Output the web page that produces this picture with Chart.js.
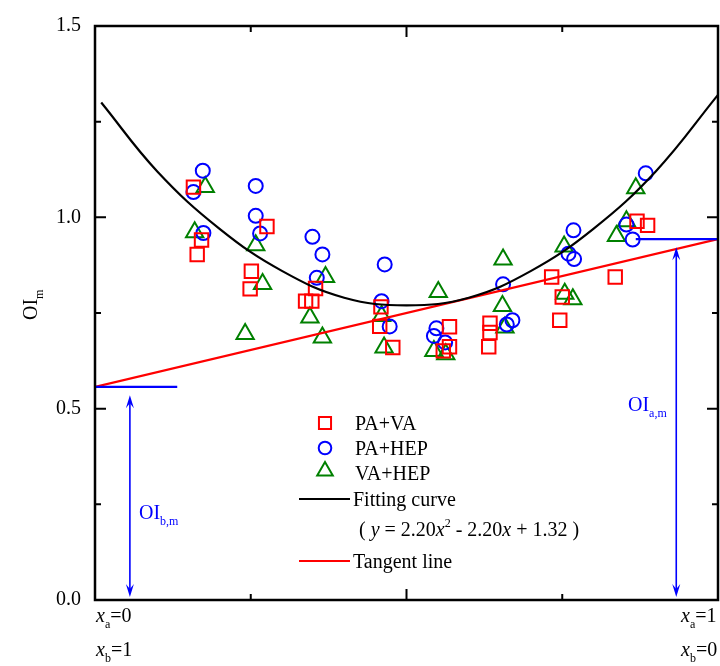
<!DOCTYPE html>
<html>
<head>
<meta charset="utf-8">
<script src="https://cdn.jsdelivr.net/npm/chart.js@4.4.0/dist/chart.umd.min.js"></script>
<style>
    html, body { margin: 0; padding: 0; background: #fff; }
    #wrap { width: 720px; height: 666px; }
</style>
</head>
<body>
<div id="wrap"><canvas id="chart"></canvas></div>
<script>
// PA+VA (squares)
var paVaX = [0.158, 0.171, 0.164, 0.276, 0.251, 0.249, 0.354, 0.338, 0.348, 0.459, 0.457, 0.478, 0.569, 0.569, 0.559, 0.634, 0.634, 0.632, 0.733, 0.750, 0.746, 0.870, 0.887, 0.835];
var paVaY = [1.079, 0.941, 0.903, 0.976, 0.859, 0.813, 0.814, 0.781, 0.781, 0.766, 0.715, 0.660, 0.714, 0.662, 0.651, 0.723, 0.699, 0.662, 0.844, 0.792, 0.731, 0.990, 0.979, 0.844];

// PA+HEP (circles)
var paHepX = [0.173, 0.158, 0.174, 0.258, 0.258, 0.265, 0.349, 0.365, 0.356, 0.465, 0.460, 0.473, 0.548, 0.544, 0.562, 0.655, 0.670, 0.661, 0.884, 0.768, 0.760, 0.769, 0.853, 0.863];
var paHepY = [1.122, 1.066, 0.959, 1.082, 1.004, 0.958, 0.949, 0.903, 0.842, 0.877, 0.781, 0.715, 0.710, 0.690, 0.673, 0.825, 0.731, 0.720, 1.115, 0.966, 0.905, 0.891, 0.981, 0.942];

// VA+HEP (triangles)
var vaHepX = [0.177, 0.160, 0.258, 0.269, 0.241, 0.370, 0.345, 0.365, 0.460, 0.464, 0.551, 0.544, 0.563, 0.655, 0.654, 0.658, 0.868, 0.753, 0.754, 0.767, 0.853, 0.837];
var vaHepY = [1.079, 0.961, 0.927, 0.826, 0.695, 0.844, 0.738, 0.686, 0.742, 0.660, 0.805, 0.651, 0.642, 0.890, 0.768, 0.712, 1.076, 0.924, 0.800, 0.786, 0.990, 0.951];

// fitting curve
var fitX = [0.01, 0.1, 0.2, 0.3, 0.4, 0.5, 0.6, 0.7, 0.8, 0.9, 1.0];
var fitY = [1.30, 1.12, 0.97, 0.86, 0.79, 0.77, 0.79, 0.86, 0.97, 1.12, 1.32];

// tangent line
var tanX = [0, 1];
var tanY = [0.557, 0.943];

// blue markers of OI_b,m and OI_a,m
var obX = [0, 0.132];
var obY = [0.557, 0.557];
var oaX = [0.868, 1];
var oaY = [0.943, 0.943];
var arrowX = [0.056, 0.933];
var arrowTop = [0.535, 0.922];
var arrowBottom = [0.008, 0.008];

var yTicks = [0, 0.5, 1.0, 1.5];

function pts(xs, ys) {
    return xs.map(function(x, i) { return { x: x, y: ys[i] }; });
}

var SERIF = '"Liberation Serif", "Times New Roman", serif';

// text with a subscript / superscript piece
function drawParts(ctx, x, y, parts, color) {
    ctx.fillStyle = color;
    ctx.textBaseline = 'alphabetic';
    ctx.textAlign = 'left';
    parts.forEach(function(p) {
        var size = p.sub || p.sup ? 12 : 20;
        ctx.font = (p.it ? 'italic ' : '') + size + 'px ' + SERIF;
        var dy = p.sub ? 6 : (p.sup ? -9 : 0);
        ctx.fillText(p.t, x, y + dy);
        x += ctx.measureText(p.t).width;
    });
    return x;
}

function arrowHead(ctx, x, y, dir) {
    ctx.beginPath();
    ctx.moveTo(x, y);
    ctx.lineTo(x - 4, y - dir * 13);
    ctx.lineTo(x, y - dir * 8);
    ctx.lineTo(x + 4, y - dir * 13);
    ctx.closePath();
    ctx.fill();
}

var decorPlugin = {
    id: 'decor',
    afterDatasetsDraw: function(chart) {
        var ctx = chart.ctx, a = chart.chartArea;
        var xs = chart.scales.x, ys = chart.scales.y;
        ctx.save();

        // frame
        ctx.strokeStyle = '#000';
        ctx.lineWidth = 2.5;
        ctx.strokeRect(a.left, a.top, a.right - a.left, a.bottom - a.top);

        // inward ticks
        ctx.lineWidth = 2;
        ctx.beginPath();
        for (var v = 0; v <= 1.5001; v += 0.25) {
            var py = ys.getPixelForValue(v);
            var len = Math.abs(v * 2 - Math.round(v * 2)) < 0.01 ? 11 : 6;
            ctx.moveTo(a.left, py); ctx.lineTo(a.left + len, py);
            ctx.moveTo(a.right, py); ctx.lineTo(a.right - len, py);
        }
        [0.25, 0.5, 0.75].forEach(function(v) {
            var px = xs.getPixelForValue(v);
            var len = v === 0.5 ? 11 : 6;
            ctx.moveTo(px, a.bottom); ctx.lineTo(px, a.bottom - len);
            ctx.moveTo(px, a.top); ctx.lineTo(px, a.top + len);
        });
        ctx.stroke();

        // double arrows
        ctx.strokeStyle = '#0000ff';
        ctx.fillStyle = '#0000ff';
        ctx.lineWidth = 1.6;
        arrowX.forEach(function(v, i) {
            var px = xs.getPixelForValue(v);
            var t = ys.getPixelForValue(arrowTop[i]);
            var b = ys.getPixelForValue(arrowBottom[i]);
            ctx.beginPath();
            ctx.moveTo(px, t + 4); ctx.lineTo(px, b - 4);
            ctx.stroke();
            arrowHead(ctx, px, t, -1);
            arrowHead(ctx, px, b, 1);
        });

        drawParts(ctx, 139, 519, [{ t: 'OI' }, { t: 'b,m', sub: true }], '#0000ff');
        drawParts(ctx, 628, 411, [{ t: 'OI' }, { t: 'a,m', sub: true }], '#0000ff');

        // legend
        var ds = chart.data.datasets;
        var lx = 325, tx = 355;
        var rows = [423, 448, 473];
        for (var i = 0; i < 3; i++) {
            var o = chart.getDatasetMeta(i).controller.getStyle(0);
            ctx.lineWidth = o.borderWidth;
            ctx.strokeStyle = o.borderColor;
            ctx.fillStyle = 'rgba(0,0,0,0)';
            Chart.helpers.drawPoint(ctx, {
                pointStyle: o.pointStyle, radius: o.radius * 0.9, borderWidth: o.borderWidth, rotation: 0
            }, lx, rows[i] - (o.pointStyle === 'triangle' ? 2 : 0));
            drawParts(ctx, tx, rows[i] + 7, [{ t: ds[i].label }], '#000');
        }
        ctx.lineWidth = 2;
        ctx.strokeStyle = '#000';
        ctx.beginPath(); ctx.moveTo(299, 499); ctx.lineTo(350, 499); ctx.stroke();
        drawParts(ctx, tx - 2, 506, [{ t: ds[3].label }], '#000');
        drawParts(ctx, 359, 536, [
            { t: '( ' }, { t: 'y', it: true }, { t: ' = 2.20' }, { t: 'x', it: true }, { t: '2', sup: true },
            { t: ' - 2.20' }, { t: 'x', it: true }, { t: ' + 1.32 )' }
        ], '#000');
        ctx.strokeStyle = '#ff0000';
        ctx.beginPath(); ctx.moveTo(299, 561); ctx.lineTo(350, 561); ctx.stroke();
        drawParts(ctx, tx - 2, 568, [{ t: ds[4].label }], '#000');

        // x end labels
        drawParts(ctx, 96, 622, [{ t: 'x', it: true }, { t: 'a', sub: true }, { t: '=0' }], '#000');
        drawParts(ctx, 96, 656, [{ t: 'x', it: true }, { t: 'b', sub: true }, { t: '=1' }], '#000');
        drawParts(ctx, 681, 622, [{ t: 'x', it: true }, { t: 'a', sub: true }, { t: '=1' }], '#000');
        drawParts(ctx, 681, 656, [{ t: 'x', it: true }, { t: 'b', sub: true }, { t: '=0' }], '#000');

        // y title
        ctx.save();
        ctx.translate(37, 320);
        ctx.rotate(-Math.PI / 2);
        drawParts(ctx, 0, 0, [{ t: 'OI' }, { t: 'm', sub: true }], '#000');
        ctx.restore();

        ctx.restore();
    }
};

var ctx = document.getElementById('chart').getContext('2d');
new Chart(ctx, {
    type: 'scatter',
    data: {
        datasets: [
            {
                label: 'PA+VA',
                data: pts(paVaX, paVaY),
                pointStyle: 'rect',
                pointRadius: 9.5,
                borderColor: '#ff0000',
                backgroundColor: 'rgba(0,0,0,0)',
                borderWidth: 2,
                order: 2
            },
            {
                label: 'PA+HEP',
                data: pts(paHepX, paHepY),
                pointStyle: 'circle',
                pointRadius: 7,
                borderColor: '#0000ff',
                backgroundColor: 'rgba(0,0,0,0)',
                borderWidth: 2,
                order: 3
            },
            {
                label: 'VA+HEP',
                data: pts(vaHepX, vaHepY),
                pointStyle: 'triangle',
                pointRadius: 10,
                borderColor: '#008000',
                backgroundColor: 'rgba(0,0,0,0)',
                borderWidth: 2,
                order: 4
            },
            {
                label: 'Fitting curve',
                type: 'line',
                data: pts(fitX, fitY),
                borderColor: '#000',
                borderWidth: 2.2,
                pointRadius: 0,
                tension: 0.4,
                fill: false,
                order: 1
            },
            {
                label: 'Tangent line',
                type: 'line',
                data: pts(tanX, tanY),
                borderColor: '#ff0000',
                borderWidth: 2.2,
                pointRadius: 0,
                fill: false,
                order: 1
            },
            {
                label: 'OIb',
                type: 'line',
                data: pts(obX, obY),
                borderColor: '#0000ff',
                borderWidth: 2.2,
                pointRadius: 0,
                fill: false,
                order: 0
            },
            {
                label: 'OIa',
                type: 'line',
                data: pts(oaX, oaY),
                borderColor: '#0000ff',
                borderWidth: 2.2,
                pointRadius: 0,
                fill: false,
                order: 0
            }
        ]
    },
    options: {
        responsive: true,
        maintainAspectRatio: false,
        animation: false,
        layout: { autoPadding: false, padding: { top: 24, right: 2, left: 0, bottom: 0 } },
        plugins: {
            legend: { display: false },
            tooltip: { enabled: false }
        },
        scales: {
            x: {
                type: 'linear',
                min: 0,
                max: 1,
                grid: { display: false, drawTicks: false },
                border: { display: false },
                ticks: { display: false },
                afterFit: function(scale) { scale.height = 66; }
            },
            y: {
                min: 0,
                max: 1.5,
                afterBuildTicks: function(scale) {
                    scale.ticks = yTicks.map(function(v) { return { value: v }; });
                },
                grid: { display: false, drawTicks: false },
                border: { display: false },
                ticks: {
                    padding: 14,
                    color: '#000',
                    font: { family: SERIF, size: 20 },
                    callback: function(v) { return Number(v).toFixed(1); }
                },
                afterFit: function(scale) { scale.width = 95; }
            }
        }
    },
    plugins: [decorPlugin]
});
</script>
</body>
</html>
